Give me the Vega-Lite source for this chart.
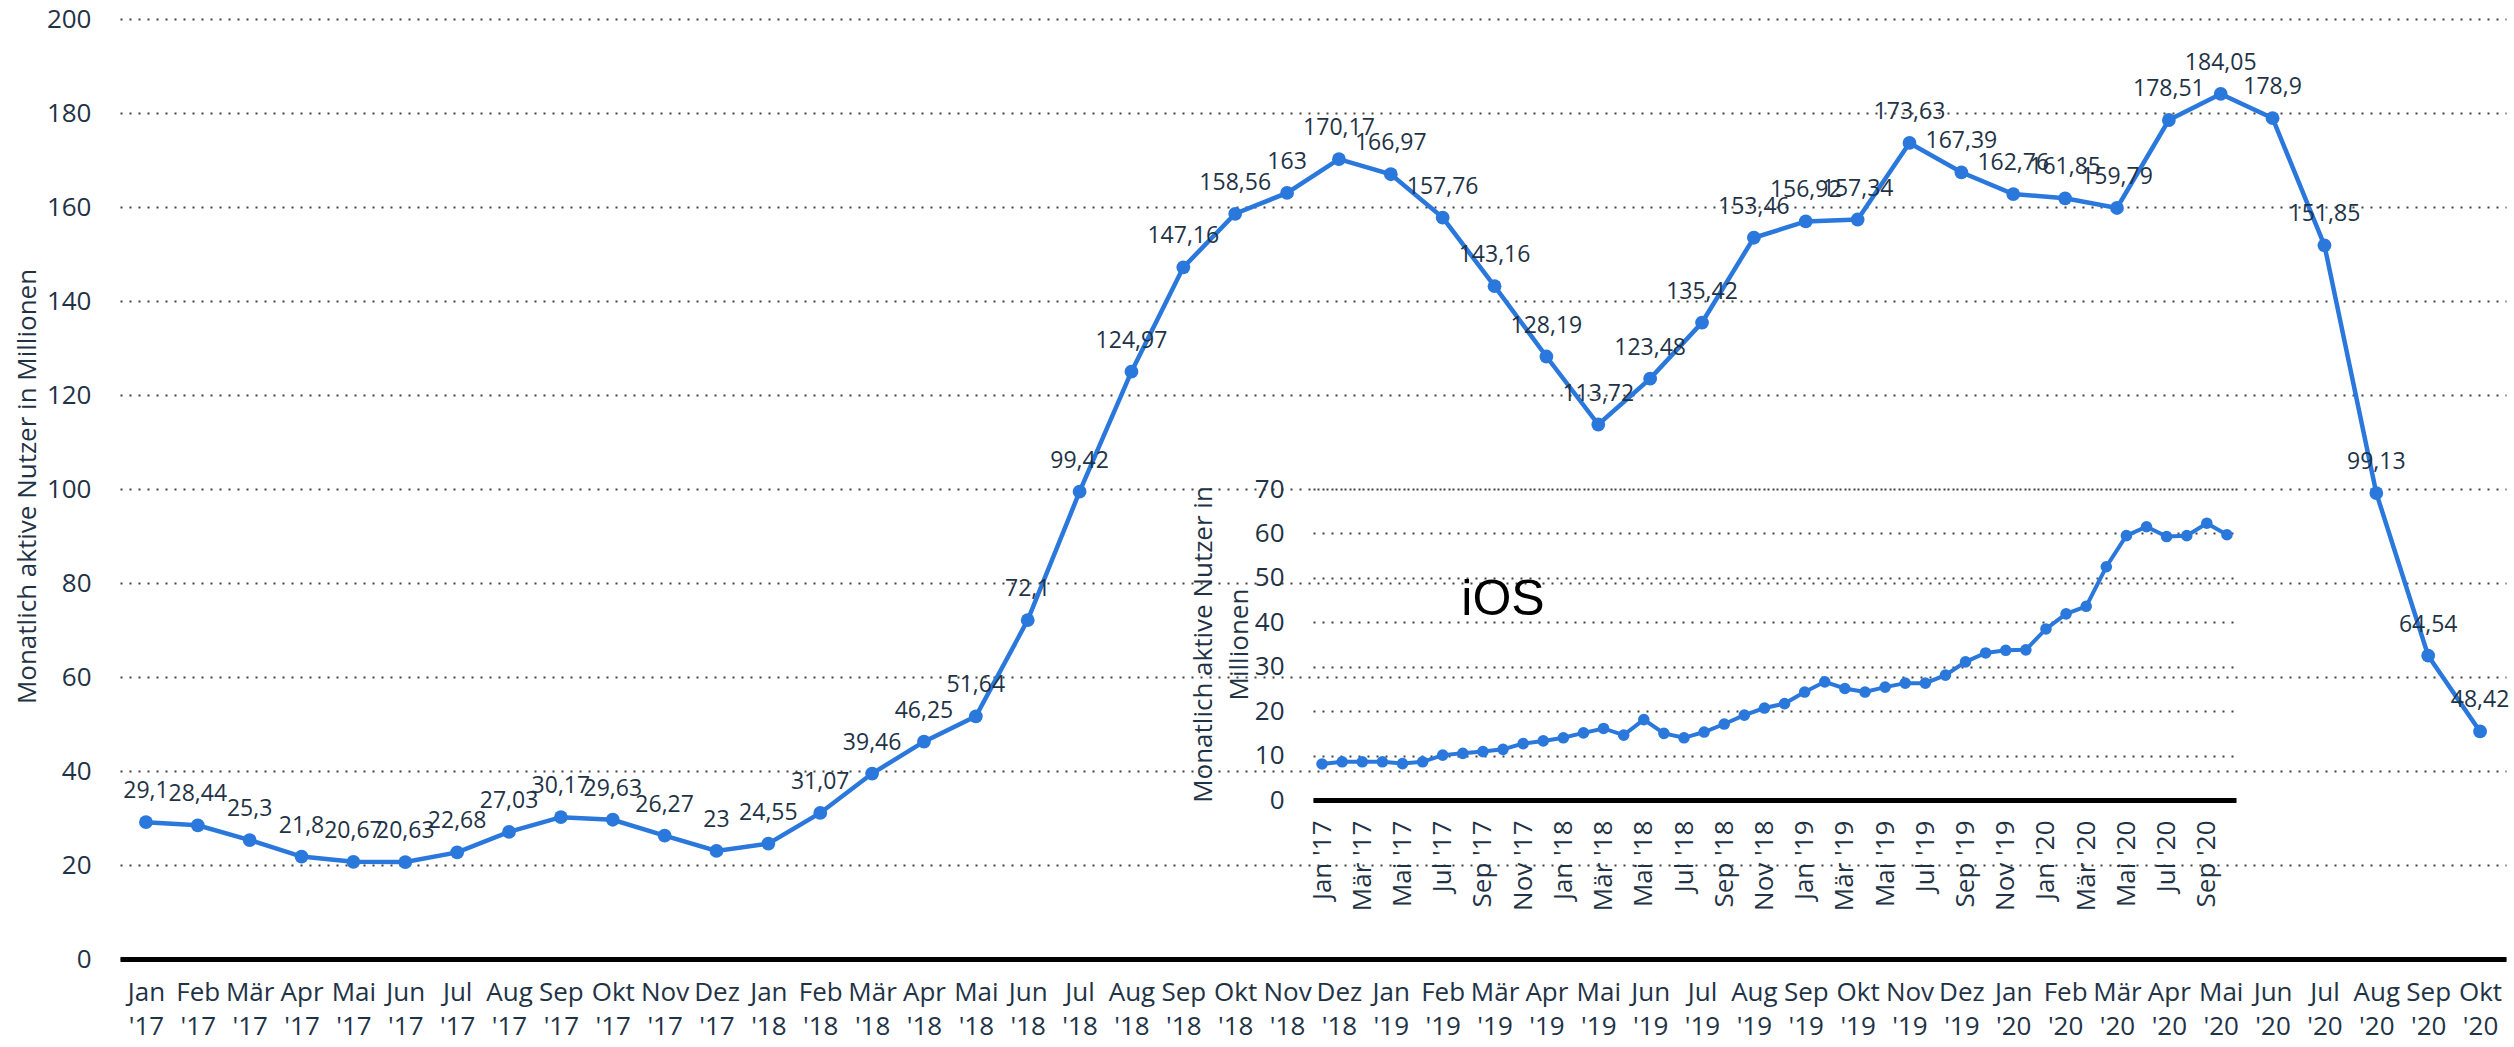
{
  "$schema": "https://vega.github.io/schema/vega-lite/v6.json",
  "width": 2386,
  "height": 940,
  "autosize": {"type": "none"},
  "padding": {"left": 120, "top": 19, "right": 8, "bottom": 88},
  "background": "white",
  "config": {
    "view": {"stroke": null},
    "font": "Open Sans",
    "locale": {"number": {"decimal": ",", "thousands": ".", "grouping": [3], "currency": ["", " €"]}},
    "axis": {
      "labelFont": "Open Sans",
      "labelFontSize": 26,
      "labelColor": "#1f3346",
      "titleFont": "Open Sans",
      "titleFontSize": 26,
      "titleFontWeight": "normal",
      "titleColor": "#1f3346",
      "ticks": false,
      "gridColor": "#444444",
      "gridDash": [2, 7],
      "gridWidth": 2,
      "gridOpacity": 1
    }
  },
  "data": {
    "values": [
      {"monat": "Jan '17", "gesamt": 29.1, "ios": 8.1},
      {"monat": "Feb '17", "gesamt": 28.44, "ios": 8.6},
      {"monat": "Mär '17", "gesamt": 25.3, "ios": 8.6},
      {"monat": "Apr '17", "gesamt": 21.8, "ios": 8.6},
      {"monat": "Mai '17", "gesamt": 20.67, "ios": 8.2},
      {"monat": "Jun '17", "gesamt": 20.63, "ios": 8.6},
      {"monat": "Jul '17", "gesamt": 22.68, "ios": 10.1},
      {"monat": "Aug '17", "gesamt": 27.03, "ios": 10.5},
      {"monat": "Sep '17", "gesamt": 30.17, "ios": 10.9},
      {"monat": "Okt '17", "gesamt": 29.63, "ios": 11.4},
      {"monat": "Nov '17", "gesamt": 26.27, "ios": 12.7},
      {"monat": "Dez '17", "gesamt": 23, "ios": 13.3},
      {"monat": "Jan '18", "gesamt": 24.55, "ios": 14.0},
      {"monat": "Feb '18", "gesamt": 31.07, "ios": 15.1},
      {"monat": "Mär '18", "gesamt": 39.46, "ios": 16.1},
      {"monat": "Apr '18", "gesamt": 46.25, "ios": 14.6},
      {"monat": "Mai '18", "gesamt": 51.64, "ios": 18.1},
      {"monat": "Jun '18", "gesamt": 72.1, "ios": 15.0},
      {"monat": "Jul '18", "gesamt": 99.42, "ios": 14.0},
      {"monat": "Aug '18", "gesamt": 124.97, "ios": 15.3},
      {"monat": "Sep '18", "gesamt": 147.16, "ios": 17.1},
      {"monat": "Okt '18", "gesamt": 158.56, "ios": 19.1},
      {"monat": "Nov '18", "gesamt": 163, "ios": 20.7},
      {"monat": "Dez '18", "gesamt": 170.17, "ios": 21.7},
      {"monat": "Jan '19", "gesamt": 166.97, "ios": 24.3},
      {"monat": "Feb '19", "gesamt": 157.76, "ios": 26.6},
      {"monat": "Mär '19", "gesamt": 143.16, "ios": 25.1},
      {"monat": "Apr '19", "gesamt": 128.19, "ios": 24.3},
      {"monat": "Mai '19", "gesamt": 113.72, "ios": 25.4},
      {"monat": "Jun '19", "gesamt": 123.48, "ios": 26.3},
      {"monat": "Jul '19", "gesamt": 135.42, "ios": 26.3},
      {"monat": "Aug '19", "gesamt": 153.46, "ios": 28.1},
      {"monat": "Sep '19", "gesamt": 156.92, "ios": 31.1},
      {"monat": "Okt '19", "gesamt": 157.34, "ios": 33.1},
      {"monat": "Nov '19", "gesamt": 173.63, "ios": 33.7},
      {"monat": "Dez '19", "gesamt": 167.39, "ios": 33.8},
      {"monat": "Jan '20", "gesamt": 162.76, "ios": 38.5},
      {"monat": "Feb '20", "gesamt": 161.85, "ios": 41.9},
      {"monat": "Mär '20", "gesamt": 159.79, "ios": 43.6},
      {"monat": "Apr '20", "gesamt": 178.51, "ios": 52.5},
      {"monat": "Mai '20", "gesamt": 184.05, "ios": 59.5},
      {"monat": "Jun '20", "gesamt": 178.9, "ios": 61.5},
      {"monat": "Jul '20", "gesamt": 151.85, "ios": 59.3},
      {"monat": "Aug '20", "gesamt": 99.13, "ios": 59.5},
      {"monat": "Sep '20", "gesamt": 64.54, "ios": 62.3},
      {"monat": "Okt '20", "gesamt": 48.42, "ios": 59.7}
    ]
  },
  "layer": [
    {
      "encoding": {
        "x": {
          "field": "monat",
          "type": "ordinal",
          "sort": null,
          "scale": {"type": "point", "padding": 0.5},
          "axis": {
            "title": null,
            "labelAngle": 0,
            "domainColor": "#000000",
            "domainWidth": 5,
            "labelPadding": 20,
            "labelLineHeight": 34,
            "labelBaseline": "top",
            "labelExpr": "split(datum.label, ' ')"
          }
        },
        "y": {
          "field": "gesamt",
          "type": "quantitative",
          "scale": {"domain": [0, 200]},
          "axis": {
            "title": "Monatlich aktive Nutzer in Millionen",
            "values": [0, 20, 40, 60, 80, 100, 120, 140, 160, 180, 200],
            "domain": false,
            "labelPadding": 29,
            "grid": true,
            "titleX": -93,
            "titleY": 467,
            "titleAngle": -90,
            "titleBaseline": "middle",
            "titleAlign": "center"
          }
        }
      },
      "layer": [
        {"mark": {"type": "line", "color": "#2b78dd", "strokeWidth": 4.5}},
        {"mark": {"type": "point", "filled": true, "size": 190, "color": "#2b78dd", "opacity": 1}},
        {
          "mark": {"type": "text", "dy": -31, "fontSize": 23, "color": "#1f3346", "font": "Open Sans"},
          "encoding": {"text": {"field": "gesamt", "type": "quantitative", "format": "~g"}}
        }
      ]
    },
    {
      "encoding": {
        "x": {
          "field": "monat",
          "type": "ordinal",
          "sort": null,
          "scale": {"type": "point", "padding": 0.45, "range": [1193, 2116]},
          "axis": {
            "orient": "bottom",
            "offset": -159,
            "title": null,
            "labelAngle": -90,
            "values": ["Jan '17", "Mär '17", "Mai '17", "Jul '17", "Sep '17", "Nov '17", "Jan '18", "Mär '18", "Mai '18", "Jul '18", "Sep '18", "Nov '18", "Jan '19", "Mär '19", "Mai '19", "Jul '19", "Sep '19", "Nov '19", "Jan '20", "Mär '20", "Mai '20", "Jul '20", "Sep '20"],
            "domainColor": "#000000",
            "domainWidth": 5,
            "labelPadding": 20
          }
        },
        "y": {
          "field": "ios",
          "type": "quantitative",
          "scale": {"domain": [0, 70], "range": [781, 470]},
          "axis": {
            "orient": "left",
            "offset": -1193,
            "title": ["Monatlich aktive Nutzer in", "Millionen"],
            "values": [0, 10, 20, 30, 40, 50, 60, 70],
            "domain": false,
            "labelPadding": 29,
            "grid": true,
            "titleX": -110,
            "titleY": 625,
            "titleAngle": -90,
            "titleBaseline": "middle",
            "titleAlign": "center",
            "titleLineHeight": 36
          }
        }
      },
      "layer": [
        {"mark": {"type": "line", "color": "#2b78dd", "strokeWidth": 4}},
        {"mark": {"type": "point", "filled": true, "size": 135, "color": "#2b78dd", "opacity": 1}},
        {
          "transform": [{"filter": "datum.monat == \"Okt '17\""}],
          "mark": {"type": "text", "text": "iOS", "font": "Liberation Sans", "fontSize": 50, "color": "#000000"},
          "encoding": {"y": {"datum": 45}}
        }
      ]
    }
  ],
  "resolve": {
    "scale": {"x": "independent", "y": "independent"},
    "axis": {"x": "independent", "y": "independent"}
  }
}
